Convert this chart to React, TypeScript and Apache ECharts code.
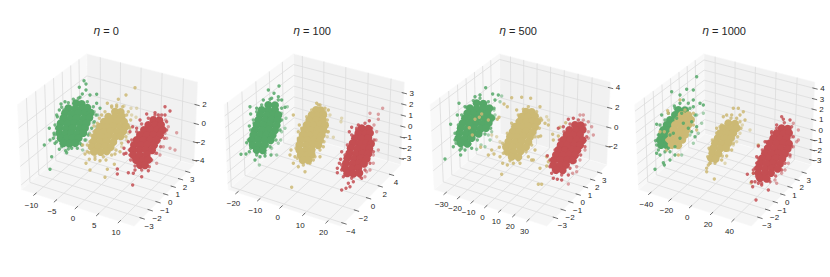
import React, { useEffect, useRef } from "react";
import * as echarts from "echarts";

const GREEN = "#55A868";
const YELLOW = "#CCB974";
const RED = "#C44E52";

// Projected positions, in thirds of a pixel from each panel's top-left corner.
const p1GreenCore = [[228,310],[245,312],[205,325],[225,327],[245,325],[262,323],[195,340],[215,342],[235,340],[255,339],[272,338],[190,355],[210,356],[230,354],[250,356],[268,353],[182,370],[202,371],[222,369],[242,371],[260,369],[178,385],[198,386],[218,384],[238,386],[255,384],[178,400],[196,401],[214,399],[232,401],[250,399],[182,415],[200,416],[218,414],[236,414],[190,430],[208,431],[226,429]];
const p1GreenEdge = [[150,508],[133,435],[148,385],[160,415],[155,470],[178,448],[197,452],[200,458],[238,262],[252,242],[258,252],[258,270],[247,282],[270,285],[290,283],[290,310],[300,325],[183,312],[195,305],[240,292],[150,420],[165,430],[162,400],[172,350],[178,330],[215,445],[240,430],[170,385]];
const p1GreenRim = [[235,295],[220,298],[262,305],[280,320],[288,345],[283,365],[275,385],[265,405],[255,420],[245,435],[232,445],[205,447],[185,440],[170,425],[163,405],[165,375],[170,345],[185,322],[205,308],[192,330]];
const p1GreenFaint = [[293,345],[280,368],[290,380],[268,400],[258,420],[248,450],[283,335],[275,352]];
const p1YellowCore = [[345,335],[362,336],[325,350],[345,351],[365,349],[312,365],[332,366],[352,364],[372,365],[300,380],[320,381],[340,379],[360,381],[378,379],[292,395],[312,396],[332,394],[352,396],[370,394],[285,410],[305,411],[325,409],[345,411],[362,409],[280,425],[300,426],[320,424],[340,426],[275,440],[295,441],[315,439],[332,441],[282,455],[302,456],[320,454]];
const p1YellowEdge = [[255,462],[262,455],[268,478],[285,478],[300,482],[318,480],[258,490],[270,510],[315,532],[343,493],[322,508],[360,455],[345,462],[380,345],[355,298],[322,310],[405,263],[378,285],[248,435],[270,425],[282,395],[292,370],[305,345],[350,320],[335,318]];
const p1YellowRim = [[350,315],[368,320],[385,335],[392,360],[390,385],[378,410],[365,430],[348,450],[335,465],[310,470],[285,470],[268,458],[262,435],[272,405],[282,378],[298,355],[315,335],[335,322]];
const p1YellowFaint = [[372,318],[393,325],[410,325],[388,382],[385,400],[395,345],[408,352],[380,420],[365,440]];
const p1RedCore = [[460,360],[478,361],[445,375],[465,376],[483,374],[432,390],[452,391],[472,389],[488,390],[420,405],[440,406],[460,404],[480,406],[410,420],[430,421],[450,419],[470,421],[402,435],[422,436],[442,434],[462,436],[398,450],[418,451],[438,449],[456,451],[400,465],[420,466],[440,464],[408,480],[428,481],[445,479],[420,495],[435,496]];
const p1RedEdge = [[352,507],[352,522],[378,460],[372,445],[385,425],[390,395],[398,380],[400,520],[385,518],[398,555],[425,530],[445,512],[495,320],[510,333],[440,342],[465,338],[475,345],[495,345],[420,360],[410,385],[390,465],[405,510],[372,462]];
const p1RedRim = [[465,345],[485,345],[500,365],[500,390],[493,415],[482,440],[470,460],[455,480],[448,500],[425,510],[405,498],[392,480],[388,450],[395,420],[410,395],[425,372],[445,355]];
const p1RedFaint = [[530,398],[510,445],[525,450],[500,415],[505,380],[490,440],[495,400],[497,360],[480,465],[470,490],[465,460]];

const p2GreenCore = [[175,315],[195,316],[155,330],[175,331],[195,329],[150,345],[170,346],[190,344],[205,345],[145,360],[165,361],[185,359],[203,361],[140,375],[160,376],[180,374],[200,376],[135,390],[155,391],[175,389],[195,391],[130,405],[150,406],[170,404],[188,406],[125,420],[145,421],[165,419],[182,421],[128,435],[148,436],[165,434],[140,450],[158,451]];
const p2GreenEdge = [[175,270],[192,280],[207,258],[205,290],[120,320],[140,325],[122,342],[132,370],[118,378],[110,428],[93,463],[108,462],[118,455],[135,480],[150,470],[165,468],[183,465],[215,300],[225,322],[130,440],[128,395],[160,300],[185,295]];
const p2GreenRim = [[180,298],[205,300],[215,325],[215,360],[210,390],[198,420],[180,440],[165,460],[140,465],[122,445],[115,420],[122,390],[130,360],[140,335],[155,315]];
const p2GreenFaint = [[232,320],[215,340],[228,355],[215,395],[212,420],[225,385],[185,445],[148,495],[205,430],[200,465]];
const p2YellowCore = [[318,330],[332,331],[305,345],[325,346],[340,344],[298,360],[318,361],[338,359],[290,375],[310,376],[330,374],[345,376],[283,390],[303,391],[323,389],[340,391],[278,405],[298,406],[318,404],[335,406],[272,420],[292,421],[312,419],[330,421],[268,435],[288,436],[308,434],[325,436],[268,450],[288,451],[305,449],[272,465],[290,466],[305,464],[278,480],[295,481]];
const p2YellowEdge = [[245,562],[250,345],[268,375],[265,395],[243,450],[240,465],[255,470],[250,490],[265,500],[285,515],[310,480],[320,310],[330,315],[345,325],[355,330],[350,370],[355,395],[340,440],[330,470]];
const p2YellowRim = [[325,315],[345,335],[352,360],[352,395],[342,425],[330,450],[315,470],[300,490],[280,495],[262,475],[258,445],[265,415],[275,385],[290,350],[305,330]];
const p2YellowFaint = [[395,355],[393,365],[370,412],[352,410],[360,345]];
const p2RedCore = [[455,385],[475,386],[445,400],[465,401],[480,399],[435,415],[455,416],[475,414],[428,430],[448,431],[468,429],[483,431],[422,445],[442,446],[462,444],[478,446],[418,460],[438,461],[458,459],[475,461],[412,475],[432,476],[452,474],[470,476],[408,490],[428,491],[448,489],[462,491],[405,505],[425,506],[445,504],[412,520],[430,521],[448,519]];
const p2RedEdge = [[478,362],[445,375],[425,382],[418,395],[440,390],[395,455],[392,478],[388,490],[382,505],[382,518],[395,510],[415,550],[395,570],[408,565],[420,560],[430,545],[400,530],[455,535]];
const p2RedRim = [[465,370],[485,385],[492,420],[490,455],[480,490],[465,510],[450,530],[425,535],[405,525],[395,495],[405,465],[412,435],[425,405],[440,385]];
const p2RedFaint = [[518,325],[505,343],[480,340],[505,358],[492,375],[500,395],[498,420],[505,450],[490,465],[480,510],[470,515],[465,530],[490,490]];

const p3GreenCore = [[170,310],[190,311],[150,325],[170,326],[190,324],[208,325],[142,340],[162,341],[182,339],[202,341],[135,355],[155,356],[175,354],[195,356],[213,354],[128,370],[148,371],[168,369],[188,371],[206,369],[122,385],[142,386],[162,384],[182,386],[198,384],[118,400],[138,401],[158,399],[176,401],[115,415],[135,416],[155,414],[122,430],[142,431]];
const p3GreenEdge = [[197,263],[218,282],[235,285],[165,290],[180,285],[117,310],[135,320],[92,373],[112,345],[75,477],[100,440],[105,420],[122,465],[120,450],[135,450],[155,445],[225,300]];
const p3GreenRim = [[180,295],[205,305],[222,325],[222,355],[212,385],[195,402],[172,420],[150,432],[125,445],[108,430],[105,400],[115,375],[125,345],[140,322],[160,302]];
const p3GreenFaint = [[245,288],[222,330],[225,345],[205,405],[215,395],[195,440],[183,435],[170,448],[240,305],[210,420]];
const p3YellowCore = [[318,335],[335,336],[305,350],[325,351],[345,349],[298,365],[318,366],[338,364],[352,365],[285,380],[305,381],[325,379],[345,381],[278,395],[298,396],[318,394],[338,396],[270,410],[290,411],[310,409],[330,411],[265,425],[285,426],[305,424],[325,426],[258,440],[278,441],[298,439],[318,441],[262,455],[282,456],[302,454],[275,470],[295,471]];
const p3YellowEdge = [[185,342],[165,358],[148,383],[205,360],[157,405],[178,352],[232,358],[237,352],[275,293],[305,292],[332,295],[262,320],[252,312],[290,330],[360,320],[365,360],[375,370],[385,375],[355,410],[362,408],[345,450],[325,470],[335,480],[340,480],[222,462],[215,450],[238,442],[240,470],[205,465],[182,442],[248,490],[262,495],[280,490],[300,490],[245,523],[360,505],[380,470],[398,403],[415,408],[420,382],[437,368],[380,498],[385,485],[355,553],[365,553],[400,420]];
const p3YellowRim = [[325,320],[350,335],[362,355],[358,385],[345,410],[335,435],[318,455],[295,480],[270,482],[250,460],[248,430],[262,400],[275,370],[295,345],[310,328]];
const p3YellowFaint = [[385,360],[380,350],[215,405],[230,410],[240,425]];
const p3RedCore = [[465,375],[482,376],[448,390],[468,391],[488,389],[440,405],[460,406],[480,404],[430,420],[450,421],[470,419],[488,421],[422,435],[442,436],[462,434],[480,436],[415,450],[435,451],[455,449],[472,451],[408,465],[428,466],[448,464],[465,466],[402,480],[422,481],[442,479],[458,481],[400,495],[420,496],[438,494],[408,510],[428,511]];
const p3RedEdge = [[382,467],[415,385],[430,380],[445,358],[460,355],[395,480],[390,500],[395,520],[400,535],[412,538],[425,540],[445,525]];
const p3RedRim = [[475,360],[495,375],[500,410],[495,440],[482,465],[465,485],[450,505],[425,525],[400,510],[390,480],[405,450],[418,420],[432,395],[450,372]];
const p3RedFaint = [[515,380],[520,405],[505,415],[495,450],[480,480],[470,500],[445,552],[458,520],[470,515],[490,360],[505,365],[505,395],[480,345],[490,345]];

const p4GreenCore = [[160,330],[180,331],[150,345],[170,346],[135,360],[150,361],[125,375],[140,376],[115,390],[130,391],[110,405],[125,406],[105,420],[120,421],[108,435],[125,436]];
const p4GreenEdge = [[215,230],[185,268],[165,285],[205,270],[140,275],[165,310],[148,318],[205,300],[225,310],[95,373],[110,345],[92,422],[95,460],[105,465],[90,508],[115,488],[135,480],[150,465],[118,495],[200,395],[210,410],[215,380],[195,355],[205,320],[235,315],[130,340]];
const p4GreenRim = [[150,325],[195,325],[210,345],[105,375],[100,405],[95,435],[100,450],[120,455],[135,455],[175,300],[190,310],[120,360],[108,390]];
const p4GreenFaint = [[215,345],[220,400],[205,430],[230,370],[170,465],[195,405],[235,340]];
const p4YellowCore = [[170,345],[190,346],[160,360],[180,361],[198,359],[150,375],[170,376],[190,374],[145,390],[165,391],[185,389],[140,405],[160,406],[180,404],[135,420],[155,421],[172,419],[140,435],[160,436],[310,370],[330,371],[295,385],[315,386],[335,384],[285,400],[305,401],[325,399],[278,415],[298,416],[318,414],[270,430],[290,431],[310,429],[265,445],[285,446],[303,444],[262,460],[280,461],[258,475],[272,476]];
const p4YellowEdge = [[165,300],[130,340],[118,395],[125,420],[105,395],[125,450],[160,465],[205,340],[205,375],[215,390],[128,332],[180,330],[305,345],[295,350],[325,325],[340,325],[355,335],[345,345],[360,360],[320,345],[335,355],[268,537],[245,505],[250,495],[245,515],[255,490],[270,485],[290,480],[305,468],[320,450],[255,450],[275,385],[290,375],[378,548],[400,435],[385,520]];
const p4YellowRim = [[318,355],[345,365],[348,385],[338,410],[325,430],[310,450],[292,468],[270,490],[255,490],[248,470],[252,445],[262,420],[275,400],[285,380]];
const p4YellowFaint = [[352,375],[345,400],[375,390],[335,425],[300,490],[325,435]];
const p4GreenOver = [[155,355],[175,370],[145,400],[165,415],[190,385],[135,405],[150,440],[170,340],[200,365],[130,445]];
const p4RedCore = [[470,385],[488,386],[455,400],[475,401],[492,399],[445,415],[465,416],[485,414],[435,430],[455,431],[475,429],[492,431],[428,445],[448,446],[468,444],[488,446],[420,460],[440,461],[460,459],[480,461],[412,475],[432,476],[452,474],[472,476],[405,490],[425,491],[445,489],[465,491],[400,505],[420,506],[440,504],[458,506],[400,520],[420,521],[438,519],[405,535],[425,536]];
const p4RedEdge = [[470,350],[475,358],[495,360],[455,375],[440,395],[420,425],[400,438],[395,470],[395,490],[385,510],[367,523],[385,520],[380,545],[383,560],[393,600],[430,570],[410,555],[390,545],[400,550]];
const p4RedRim = [[478,368],[500,380],[505,410],[500,440],[495,465],[480,490],[470,510],[452,528],[435,545],[410,550],[395,530],[390,505],[400,475],[412,450],[425,425],[440,400],[455,385]];
const p4RedFaint = [[505,370],[520,390],[515,425],[520,420],[500,410],[505,440],[495,470],[490,490],[480,510],[470,520],[455,550],[450,540]];

const titles = ["0", "100", "500", "1000"];
const xTicks = [[-10,-5,0,5,10],[-20,-10,0,10,20],[-30,-20,-10,0,10,20,30],[-40,-20,0,20,40]];
const yTicks = [[-3,-2,-1,0,1,2,3],[-4,-2,0,2,4],[-3,-2,-1,0,1,2,3],[-3,-2,-1,0,1,2,3]];
const zTicks = [[-4,-2,0,2],[-3,-2,-1,0,1,2,3],[-2,0,2,4],[-3,-2,-1,0,1,2,3,4]];
const xLimits = [[-13.4,13.3],[-24.2,25.8],[-38.5,42.9],[-51.4,56.7]];
const yLimits = [[-3.95,3.95],[-4.45,5.75],[-4.05,4.1],[-4.05,4.1]];
const zLimits = [[-4.5,4.38],[-3.58,3.97],[-3.95,4.58],[-3.5,4.6]];

const panelLeft = [0, 210, 420, 625];
const panelWidth = [215, 215, 210, 205];
const boxCenterX = [109.3, 106, 102, 101.5];
const titleCenterX = [101, 307, 513, 719];
const clouds = [
  [[p1GreenFaint,p1GreenEdge,p1GreenCore,p1GreenRim],[p1YellowFaint,p1YellowEdge,p1YellowCore,p1YellowRim],[p1RedFaint,p1RedEdge,p1RedCore,p1RedRim]],
  [[p2GreenFaint,p2GreenEdge,p2GreenCore,p2GreenRim],[p2YellowFaint,p2YellowEdge,p2YellowCore,p2YellowRim],[p2RedFaint,p2RedEdge,p2RedCore,p2RedRim]],
  [[p3GreenFaint,p3GreenEdge,p3GreenCore,p3GreenRim],[p3YellowFaint,p3YellowEdge,p3YellowCore,p3YellowRim],[p3RedFaint,p3RedEdge,p3RedCore,p3RedRim]],
  [[p4GreenFaint,p4GreenEdge,p4GreenCore,p4GreenRim],[p4YellowFaint,p4YellowEdge,p4YellowCore,p4YellowRim],[p4RedFaint,p4RedEdge,p4RedCore,p4RedRim]],
];
const cloudColors = [GREEN, YELLOW, RED];

// matplotlib's default 3D camera: elev 30, azim -60, dist 10, box aspect 4:4:3.
const BX = 1.143, BZ = 0.857, SCALE = 1130, CY = 136;
function project(fx: number, fy: number, fz: number, cx: number): number[] {
  const px = (fx - 0.5) * BX, py = (fy - 0.5) * BX, pz = (fz - 0.5) * BZ;
  const u = 0.866 * px + 0.5 * py;
  const v = -0.25 * px + 0.433 * py + 0.866 * pz;
  const n = 0.433 * px - 0.75 * py + 0.5 * pz;
  const w = 10 - n;
  return [3 * (cx + (SCALE * u) / w), 3 * (CY - (SCALE * v) / w)];
}
const frac = (v: number, lim: number[]) => (v - lim[0]) / (lim[1] - lim[0]);
const fmt = (v: number) => (v < 0 ? "\u2212" + Math.abs(v) : String(v));

function frameItem(i: number, api: any) {
  const cx = boxCenterX[i];
  const P = (a: number, b: number, c: number) => api.coord(project(a, b, c, cx));
  const pane = (pts: number[][], fill: string) => ({
    type: "polygon", shape: { points: pts }, style: { fill, stroke: "#fafafa", lineWidth: 0.6 }, silent: true,
  });
  const line = (a: number[], b: number[], stroke: string, w: number) => ({
    type: "line", shape: { x1: a[0], y1: a[1], x2: b[0], y2: b[1] }, style: { stroke, lineWidth: w }, silent: true,
  });
  const text = (p: number[], t: string, align: string) => ({
    type: "text", silent: true,
    style: { x: p[0], y: p[1], text: t, fill: "#262626", align, verticalAlign: "middle", font: '8px "Liberation Sans", Arial, sans-serif' },
  });
  const GRID = "#dcdcdc", TICK = "#333333";
  const kids: any[] = [
    pane([P(0,0,0), P(0,1,0), P(0,1,1), P(0,0,1)], "#f8f8f8"),
    pane([P(0,1,0), P(1,1,0), P(1,1,1), P(0,1,1)], "#f1f1f1"),
    pane([P(0,0,0), P(1,0,0), P(1,1,0), P(0,1,0)], "#f5f5f5"),
  ];
  xTicks[i].forEach((v) => {
    const f = frac(v, xLimits[i]);
    kids.push(line(P(f,0,0), P(f,1,0), GRID, 0.8), line(P(f,1,0), P(f,1,1), GRID, 0.8));
    const a = P(f,0,0);
    kids.push(line(P(f,-0.025,0), P(f,0.02,0), TICK, 0.7));
    kids.push(text([a[0] - 3.6, a[1] + 11], fmt(v), "center"));
  });
  yTicks[i].forEach((v) => {
    const f = frac(v, yLimits[i]);
    kids.push(line(P(1,f,0), P(0,f,0), GRID, 0.8), line(P(0,f,0), P(0,f,1), GRID, 0.8));
    const a = P(1,f,0);
    kids.push(line(P(1.025,f,0), P(0.98,f,0), TICK, 0.7));
    kids.push(text([a[0] + 2.6, a[1] + 8], fmt(v), "left"));
  });
  zTicks[i].forEach((v) => {
    const f = frac(v, zLimits[i]);
    kids.push(line(P(0,0,f), P(0,1,f), GRID, 0.8), line(P(0,1,f), P(1,1,f), GRID, 0.8));
    const a = P(1,1,f);
    kids.push(line(P(1.025,1,f), P(0.98,1,f), TICK, 0.7));
    kids.push(text([a[0] + 10, a[1]], fmt(v), "right"));
  });
  return { type: "group", children: kids };
}

export default function App() {
  const ref = useRef<HTMLDivElement>(null);
  useEffect(() => {
    const chart = echarts.init(ref.current!, undefined, { renderer: "svg" });
    const series: any[] = [];
    panelLeft.forEach((_, i) => {
      series.push({
        type: "custom", xAxisIndex: i, yAxisIndex: i, clip: false, silent: true, z: 1,
        data: [[0, 0]], renderItem: (_p: any, api: any) => frameItem(i, api),
      });
      const scatter = (data: number[][], color: string, size: number, opacity: number) => ({
        type: "scatter", xAxisIndex: i, yAxisIndex: i, data, symbolSize: size, silent: true, z: 2,
        itemStyle: { color, opacity },
      });
      clouds[i].forEach((cloud, c) => {
        const color = cloudColors[c];
        series.push(
          scatter(cloud[0], color, 3.4, 0.5),
          scatter(cloud[3], color, 3.4, 0.8),
          scatter(cloud[1], color, 3.4, 0.85),
          scatter(cloud[2], color, 8, 1),
        );
        if (i === 3 && c === 1) series.push(scatter(p4GreenOver, GREEN, 3.4, 0.85));
      });
    });
    chart.setOption({
      animation: false,
      backgroundColor: "#ffffff",
      title: titles.map((t, i) => ({
        text: "{e|\u03B7} = " + t,
        left: titleCenterX[i], top: 20, textAlign: "center",
        textStyle: {
          fontFamily: '"Liberation Sans", Arial, sans-serif', fontSize: 11, fontWeight: "normal", color: "#262626",
          rich: { e: { fontStyle: "italic", fontFamily: '"DejaVu Sans"', fontSize: 11, color: "#262626" } },
        },
      })),
      grid: panelLeft.map((l, i) => ({ left: l, top: 0, width: panelWidth[i], height: 277 })),
      xAxis: panelLeft.map((_, i) => ({ type: "value", gridIndex: i, min: 0, max: panelWidth[i] * 3, show: false })),
      yAxis: panelLeft.map((_, i) => ({ type: "value", gridIndex: i, min: 0, max: 831, inverse: true, show: false })),
      series,
    });
    return () => chart.dispose();
  }, []);
  return <div ref={ref} style={{ position: "fixed", left: 0, top: 0, width: 830, height: 277 }} />;
}
